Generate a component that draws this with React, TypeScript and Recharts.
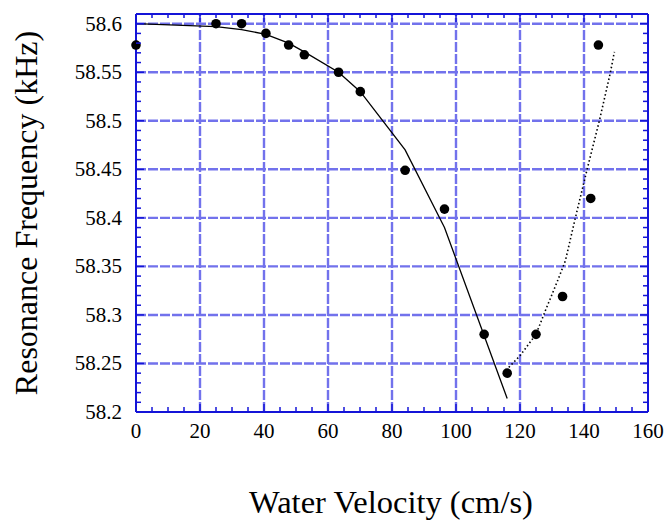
import {
  ComposedChart,
  Line,
  Scatter,
  XAxis,
  YAxis,
  ReferenceLine,
  Label,
} from "recharts";

// Measured resonance frequency vs. water velocity.
const velocity = [0, 25, 33, 40.6, 47.7, 52.6, 63.3, 70.1, 84.1, 96.4, 108.8, 116, 125, 133.3, 142.1, 144.5];
const frequency = [58.578, 58.6, 58.6, 58.59, 58.578, 58.568, 58.55, 58.53, 58.449, 58.409, 58.28, 58.24, 58.28, 58.319, 58.42, 58.578];

// Fitted curve for the falling branch (solid).
const fallFitX = [0, 25, 33, 40.6, 47.7, 52.6, 63.3, 70.1, 84.1, 96.4, 116];
const fallFitY = [58.6, 58.597, 58.594, 58.589, 58.58, 58.571, 58.55, 58.53, 58.47, 58.39, 58.214];

// Fitted curve for the rising branch (dotted).
const riseFitX = [116.5, 120, 125, 128, 131.6, 134.2, 137.3, 140.9, 144.8, 148.2, 149.5];
const riseFitY = [58.246, 58.258, 58.28, 58.305, 58.334, 58.356, 58.4, 58.449, 58.5, 58.549, 58.571];

const xMajorTicks = [0, 20, 40, 60, 80, 100, 120, 140, 160];
const yMajorTicks = [58.2, 58.25, 58.3, 58.35, 58.4, 58.45, 58.5, 58.55, 58.6];
const yLabels = ["58.2", "58.25", "58.3", "58.35", "58.4", "58.45", "58.5", "58.55", "58.6"];

const X_DOMAIN: [number, number] = [0, 160];
const Y_DOMAIN: [number, number] = [58.2, 58.61];

// minor ticks: every 5 cm/s and every 0.01 kHz
const xMinorTicks: number[] = [];
for (let v = 0; v <= 160; v += 5) xMinorTicks.push(v);
const yMinorTicks: number[] = [];
for (let i = 0; i <= 41; i++) yMinorTicks.push(Math.round((58.2 + i * 0.01) * 100) / 100);

const points = velocity.map((x, i) => ({ x, y: frequency[i] }));
const fallFit = fallFitX.map((x, i) => ({ x, y: fallFitY[i] }));
const riseFit = riseFitX.map((x, i) => ({ x, y: riseFitY[i] }));

const SERIF = "Liberation Serif";
const FRAME = "#1414d8";
const GRID = "#7272ec";

const isXMajor = (v: number) => xMajorTicks.includes(v);
const yMajorIndex = (v: number) => yMajorTicks.findIndex((m) => Math.abs(m - v) < 1e-6);

function BottomTick(props: any) {
  const { x, y, payload } = props;
  const major = isXMajor(payload.value);
  return (
    <g>
      <line x1={x} x2={x} y1={y} y2={y - (major ? 8 : 5)} stroke={FRAME} strokeWidth={1.5} />
      {major && (
        <text x={x} y={y + 26} textAnchor="middle" fontFamily={SERIF} fontSize={21} fill="#000">
          {payload.value}
        </text>
      )}
    </g>
  );
}

function TopTick(props: any) {
  const { x, y, payload } = props;
  const major = isXMajor(payload.value);
  return <line x1={x} x2={x} y1={y} y2={y + (major ? 8 : 4)} stroke={FRAME} strokeWidth={1.5} />;
}

function LeftTick(props: any) {
  const { x, y, payload } = props;
  const idx = yMajorIndex(payload.value);
  return (
    <g>
      <line x1={x} x2={x + (idx >= 0 ? 8 : 5)} y1={y} y2={y} stroke={FRAME} strokeWidth={1.5} />
      {idx >= 0 && (
        <text x={x - 14} y={y + 7} textAnchor="end" fontFamily={SERIF} fontSize={21} fill="#000">
          {yLabels[idx]}
        </text>
      )}
    </g>
  );
}

function RightTick(props: any) {
  const { x, y, payload } = props;
  const major = yMajorIndex(payload.value) >= 0;
  return <line x1={x} x2={x - (major ? 8 : 5)} y1={y} y2={y} stroke={FRAME} strokeWidth={1.5} />;
}

function Dot(props: any) {
  const { cx, cy } = props;
  return <circle cx={cx} cy={cy} r={4.8} fill="#000" />;
}

export default function App() {
  return (
    <div style={{ position: "absolute", left: 0, top: 0, background: "#fff" }}>
      <ComposedChart width={667} height={521} margin={{ top: 13, right: 18, left: 0, bottom: 0 }}>
        <XAxis
          type="number"
          dataKey="x"
          domain={X_DOMAIN}
          ticks={xMinorTicks}
          interval={0}
          height={109}
          tickSize={0}
          tickMargin={0}
          tickLine={false}
          tick={<BottomTick />}
          axisLine={{ stroke: FRAME, strokeWidth: 2 }}
        >
          <Label
            content={() => (
              <text x={391} y={513} textAnchor="middle" fontFamily={SERIF} fontSize={32.5} fill="#000">
                Water Velocity (cm/s)
              </text>
            )}
          />
        </XAxis>
        <XAxis
          xAxisId="top"
          orientation="top"
          type="number"
          dataKey="x"
          domain={X_DOMAIN}
          ticks={xMinorTicks}
          interval={0}
          height={1}
          tickSize={0}
          tickMargin={0}
          tickLine={false}
          tick={<TopTick />}
          axisLine={{ stroke: FRAME, strokeWidth: 2 }}
        />
        <YAxis
          type="number"
          domain={Y_DOMAIN}
          ticks={yMinorTicks}
          interval={0}
          width={136}
          tickSize={0}
          tickMargin={0}
          tickLine={false}
          tick={<LeftTick />}
          axisLine={{ stroke: FRAME, strokeWidth: 2 }}
        >
          <Label
            content={() => (
              <text
                transform="translate(37,213) rotate(-90)"
                textAnchor="middle"
                fontFamily={SERIF}
                fontSize={32}
                fill="#000"
              >
                Resonance Frequency (kHz)
              </text>
            )}
          />
        </YAxis>
        <YAxis
          yAxisId="right"
          orientation="right"
          type="number"
          domain={Y_DOMAIN}
          ticks={yMinorTicks}
          interval={0}
          width={1}
          tickSize={0}
          tickMargin={0}
          tickLine={false}
          tick={<RightTick />}
          axisLine={{ stroke: FRAME, strokeWidth: 2 }}
        />

        {xMajorTicks.slice(1, -1).map((v) => (
          <ReferenceLine key={`gx${v}`} x={v} stroke={GRID} strokeWidth={2.4} strokeDasharray="10 2" />
        ))}
        {yMajorTicks.slice(1).map((v) => (
          <ReferenceLine key={`gy${v}`} y={v} stroke={GRID} strokeWidth={2.4} strokeDasharray="10 2" />
        ))}

        <Line
          data={fallFit}
          dataKey="y"
          type="linear"
          stroke="#000"
          strokeWidth={1.3}
          dot={false}
          isAnimationActive={false}
        />
        <Line
          data={riseFit}
          dataKey="y"
          type="linear"
          stroke="#000"
          strokeWidth={1.6}
          strokeDasharray="1.5 2.5"
          dot={false}
          isAnimationActive={false}
        />
        {/* invisible twin so the top/right frame axes get a scale */}
        <Scatter data={points} dataKey="y" xAxisId="top" yAxisId="right" shape={() => null} isAnimationActive={false} />
        <Scatter data={points} dataKey="y" shape={<Dot />} isAnimationActive={false} />
      </ComposedChart>
    </div>
  );
}
